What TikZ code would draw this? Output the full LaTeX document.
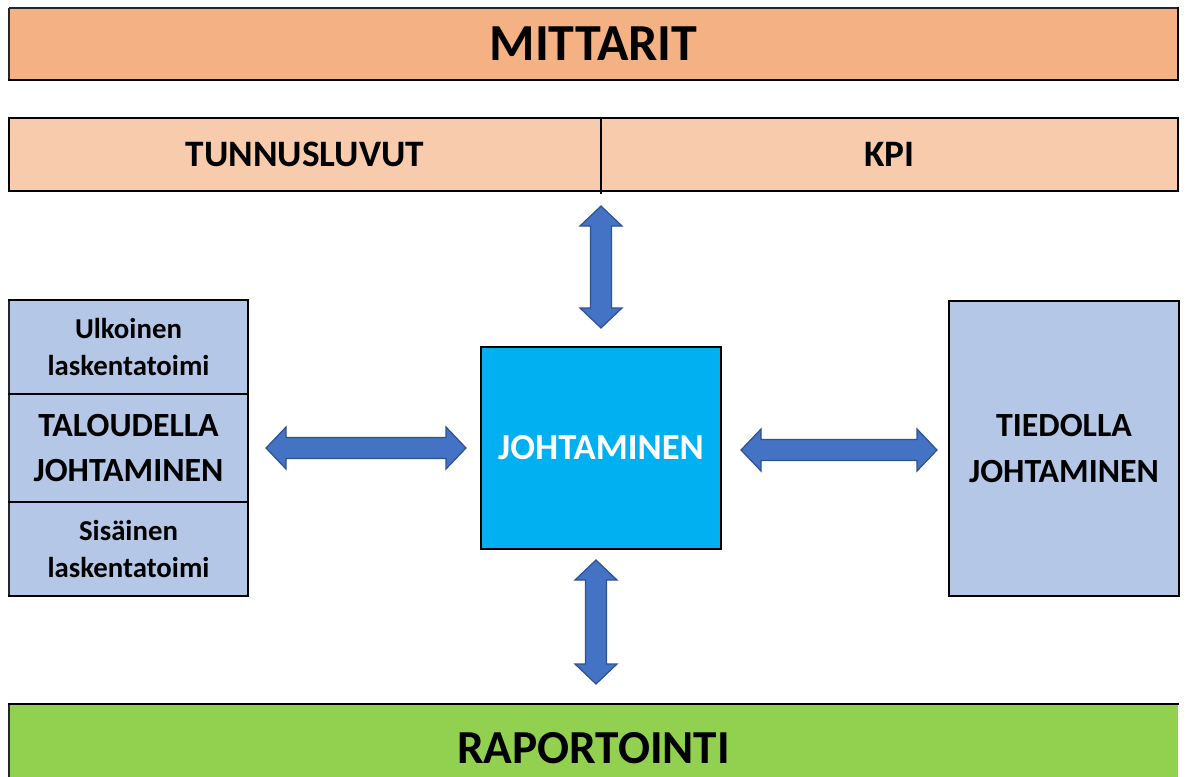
\documentclass[tikz,border=0pt]{standalone}
\usepackage{fontspec}
\setmainfont{Carlito}
\usetikzlibrary{calc}
\definecolor{mitfill}{HTML}{F4B183}
\definecolor{tunfill}{HTML}{F8CBAD}
\definecolor{lightblue}{HTML}{B4C7E7}
\definecolor{cyanfill}{HTML}{00B0F0}
\definecolor{greenfill}{HTML}{92D050}
\definecolor{arrowfill}{HTML}{4472C4}
\definecolor{arrowedge}{HTML}{2F528F}
\newcommand\txtsize[2]{\fontsize{#1}{#2}\selectfont\bfseries}
% horizontal double block arrow between two tip points
\newcommand\dblarrowH[2]{%
  \filldraw[blockarrow] let \p1=(#1), \p2=(#2) in
    (\x1,\y1) -- (\x1+15pt,\y1+15.75pt) -- (\x1+15pt,\y1+7.875pt)
    -- (\x2-15pt,\y2+7.875pt) -- (\x2-15pt,\y2+15.75pt) -- (\x2,\y2)
    -- (\x2-15pt,\y2-15.75pt) -- (\x2-15pt,\y2-7.875pt)
    -- (\x1+15pt,\y1-7.875pt) -- (\x1+15pt,\y1-15.75pt) -- cycle;}
% vertical double block arrow, #1 is the upper tip, #2 the lower one
\newcommand\dblarrowV[2]{%
  \filldraw[blockarrow] let \p1=(#1), \p2=(#2) in
    (\x1,\y1) -- (\x1+15.75pt,\y1-15pt) -- (\x1+7.875pt,\y1-15pt)
    -- (\x2+7.875pt,\y2+15pt) -- (\x2+15.75pt,\y2+15pt) -- (\x2,\y2)
    -- (\x2-15.75pt,\y2+15pt) -- (\x2-7.875pt,\y2+15pt)
    -- (\x1-7.875pt,\y1-15pt) -- (\x1-15.75pt,\y1-15pt) -- cycle;}
\begin{document}
\begin{tikzpicture}[x=0.75pt,y=-0.75pt,
  cell/.style={inner sep=0pt, outer sep=0pt, align=center, text=black},
  thickline/.style={draw=black, line width=2.2pt, line cap=rect},
  thinline/.style={draw=black!85, line width=0.9pt},
  blockarrow/.style={fill=arrowfill, draw=arrowedge, line width=0.9pt, line join=miter}]
\useasboundingbox (0,0) rectangle (1186,776);
\clip (0,0) rectangle (1186,776);

% boxes (sizes in pt, one px = 0.75pt)
\node[cell, fill=mitfill, minimum width=876.75pt, minimum height=54pt,
      font=\txtsize{39}{45}] (mit) at (593.5,44) {MITTARIT};
\node[cell, fill=tunfill, minimum width=444pt, minimum height=54.75pt,
      font=\txtsize{28}{32}] (tun) at (305,154.5) {TUNNUSLUVUT};
\node[cell, fill=tunfill, minimum width=432.75pt, minimum height=54.75pt,
      font=\txtsize{28}{32}] (kpi) at (889.5,154.5) {KPI};
\node[cell, fill=lightblue, minimum width=179.25pt, minimum height=70.5pt,
      font=\txtsize{21.6}{28.3}] (ulk) at (128.5,347) {Ulkoinen\\laskentatoimi};
\node[cell, fill=lightblue, minimum width=179.25pt, minimum height=81pt,
      font=\txtsize{25.4}{33.8}] (tal) at (128.5,448) {TALOUDELLA\\JOHTAMINEN};
\node[cell, fill=lightblue, minimum width=179.25pt, minimum height=70.5pt,
      font=\txtsize{21.6}{28.3}] (sis) at (128.5,549) {Sisäinen\\laskentatoimi};
\node[cell, fill=cyanfill, text=white, minimum width=180pt, minimum height=151.5pt,
      font=\txtsize{27.5}{33}] (joh) at (601,448) {JOHTAMINEN};
\node[cell, fill=lightblue, minimum width=172.5pt, minimum height=221.25pt,
      font=\txtsize{25.4}{33.8}] (tie) at (1064,448.5) {TIEDOLLA\\JOHTAMINEN};
\node[cell, fill=greenfill, minimum width=876.75pt, minimum height=66pt,
      font=\txtsize{35.5}{42}] (rap) at (593.5,748) {RAPORTOINTI};

% outlines: thin left edges, heavier top, right and bottom edges
\foreach \n in {mit,tun,ulk,tal,sis,rap}
  \draw[thinline] (\n.south west) -- (\n.north west);
\draw[thinline] (mit.north west) -- (mit.north east);
\draw[thickline] (mit.north east) -- (mit.south east) -- (mit.south west);
\draw[thickline] (tun.south west) -- (tun.north west) -- (kpi.north east) -- (kpi.south east) -- (tun.south west);
\draw[thickline] (tun.north east) -- ($(tun.south east)+(0,2)$);
\foreach \n in {ulk,tal,sis}
  \draw[thickline] (\n.north west) -- (\n.north east) -- (\n.south east) -- (\n.south west);
\draw[thickline] (joh.north west) rectangle (joh.south east);
\draw[thickline] (tie.north west) rectangle (tie.south east);
\draw[thickline] (rap.north west) -- (rap.north east);

% connectors
\coordinate (ltipA) at ($(tal.east)+(18,0)$);
\coordinate (ltipB) at ($(joh.west)+(-15,0)$);
\coordinate (rtipA) at ($(joh.east)+(20,2)$);
\coordinate (rtipB) at ($(rtipA -| tie.west)+(-12,0)$);
\coordinate (ttipA) at ($(joh.north |- tun.south)+(0,15)$);
\coordinate (ttipB) at ($(joh.north)+(0,-19)$);
\coordinate (btipA) at ($(joh.south)+(-5,11)$);
\coordinate (btipB) at ($(joh.south |- rap.north)+(-5,-20)$);
\dblarrowH{ltipA}{ltipB}
\dblarrowH{rtipA}{rtipB}
\dblarrowV{ttipA}{ttipB}
\dblarrowV{btipA}{btipB}
\end{tikzpicture}
\end{document}
